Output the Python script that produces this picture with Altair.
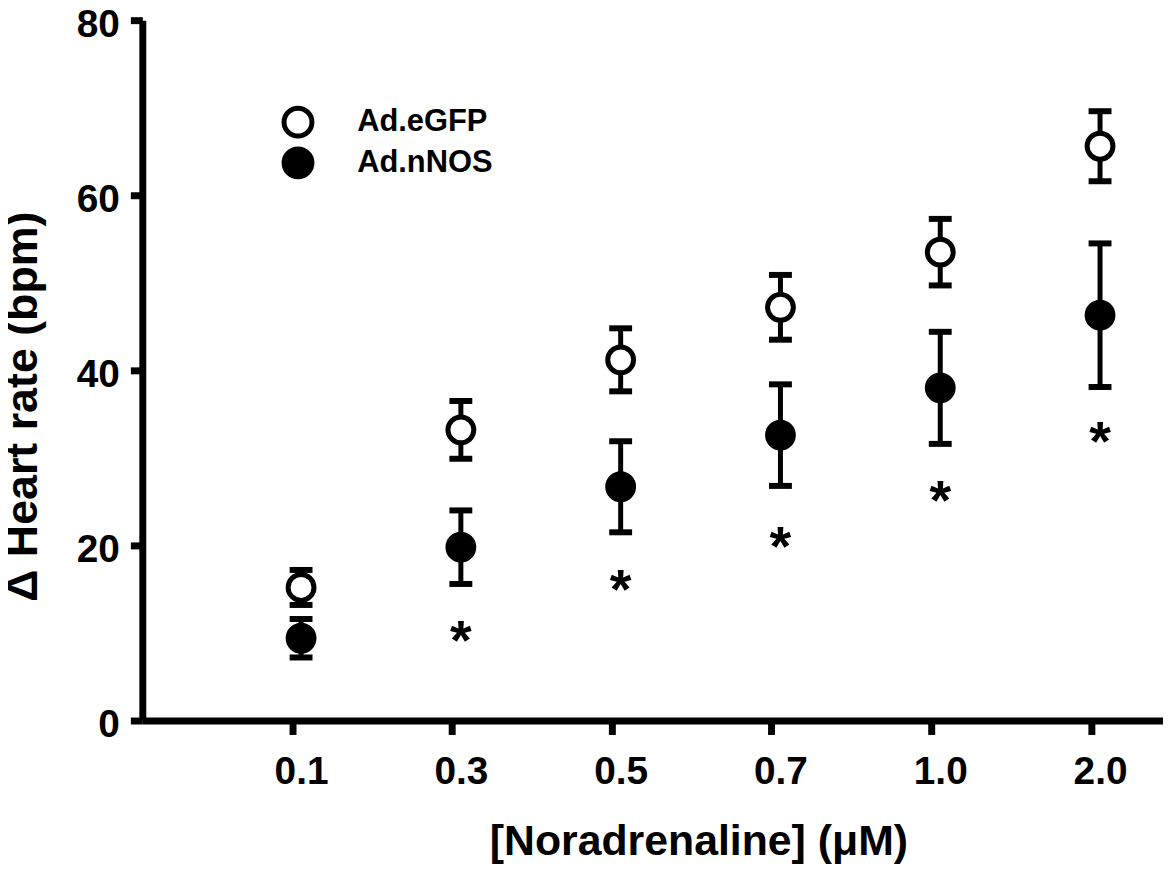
import altair as alt
import pandas as pd

# ---- data ----
doses = ["0.1", "0.3", "0.5", "0.7", "1.0", "2.0"]
egfp_mean = [15.2, 33.2, 41.2, 47.2, 53.5, 65.6]
egfp_sem = [2.0, 3.3, 3.6, 3.7, 3.8, 4.0]
nnos_mean = [9.4, 19.8, 26.7, 32.6, 38.0, 46.3]
nnos_sem = [2.2, 4.2, 5.2, 5.8, 6.4, 8.2]
star_doses = ["0.3", "0.5", "0.7", "1.0", "2.0"]
star_y = [10.7, 16.5, 21.4, 26.6, 33.4]
series_names = ["Ad.eGFP", "Ad.nNOS"]

FONT = "Liberation Sans"

rows = []
for name, means, sems in [(series_names[0], egfp_mean, egfp_sem),
                          (series_names[1], nnos_mean, nnos_sem)]:
    for i, d in enumerate(doses):
        rows.append({"series": name, "dose": d, "pos": i + 1,
                     "mean": means[i], "lo": means[i] - sems[i], "hi": means[i] + sems[i]})
df = pd.DataFrame(rows)
stars = pd.DataFrame({"dose": star_doses, "y": star_y,
                      "pos": [doses.index(d) + 1 for d in star_doses]})

label_expr = "[" + ",".join("'%s'" % d for d in doses) + "][datum.value - 1]"

OFF = 9

x_scale = alt.Scale(domain=[0.0625, 6.45], nice=False, zero=False)
y_scale = alt.Scale(domain=[0, 80], nice=False)

x_axis = alt.Axis(values=[1, 2, 3, 4, 5, 6], labelExpr=label_expr, title="[Noradrenaline] (μM)",
                  labelOffset=OFF, tickSize=14, labelPadding=18,
                  titleX=559, titleY=135, titleBaseline="alphabetic", titleAlign="center",
                  titleFontSize=43)
y_axis = alt.Axis(values=[0, 20, 40, 60, 80], title="Δ Heart rate (bpm)",
                  tickSize=12, labelPadding=11, labelOffset=4,
                  titleX=-120, titleY=388, titleBaseline="middle", titleAlign="center",
                  titleAngle=270, titleFontSize=45)

base = alt.Chart(df)

bars = base.mark_rule(color="black", strokeWidth=5, xOffset=OFF).encode(
    x=alt.X("pos:Q", scale=x_scale, axis=x_axis),
    y=alt.Y("lo:Q", scale=y_scale, axis=y_axis),
    y2="hi:Q",
)
cap_hi = base.mark_tick(orient="horizontal", color="black", size=23, thickness=6,
                        opacity=1, xOffset=OFF).encode(
    x=alt.X("pos:Q", scale=x_scale), y=alt.Y("hi:Q", scale=y_scale))
cap_lo = base.mark_tick(orient="horizontal", color="black", size=23, thickness=6,
                        opacity=1, xOffset=OFF).encode(
    x=alt.X("pos:Q", scale=x_scale), y=alt.Y("lo:Q", scale=y_scale))

points = base.mark_point(shape="circle", filled=True, size=676, stroke="black",
                         strokeWidth=5, opacity=1, xOffset=OFF).encode(
    x=alt.X("pos:Q", scale=x_scale),
    y=alt.Y("mean:Q", scale=y_scale),
    fill=alt.Fill("series:N",
                  scale=alt.Scale(domain=series_names, range=["white", "black"]),
                  legend=alt.Legend(title=None, orient="none", legendX=140, legendY=86,
                                    symbolType="circle", symbolSize=784,
                                    symbolStrokeWidth=5, symbolStrokeColor="black",
                                    labelFont=FONT, labelFontSize=31, labelFontWeight="bold",
                                    labelColor="black", labelOffset=43, rowPadding=-9,
                                    padding=0)),
)

star_marks = alt.Chart(stars).mark_text(text="*", font=FONT, fontSize=56, fontWeight="bold",
                                        color="black", baseline="middle", dy=15, dx=OFF).encode(
    x=alt.X("pos:Q", scale=x_scale),
    y=alt.Y("y:Q", scale=y_scale),
)

chart = alt.layer(bars, cap_hi, cap_lo, points, star_marks).properties(
    width=1026, height=704,
    padding={"left": 135, "top": 10, "right": 0, "bottom": 142},
    autosize=alt.AutoSizeParams(type="none"),
).configure_view(stroke=None).configure_axis(
    grid=False, domainColor="black", domainWidth=7, tickColor="black", tickWidth=7,
    labelFont=FONT, labelFontSize=39, labelFontWeight="bold", labelColor="black",
    titleFont=FONT, titleFontWeight="bold", titleColor="black",
)

chart.save("out.html", embed_options={"renderer": "svg", "actions": False})
